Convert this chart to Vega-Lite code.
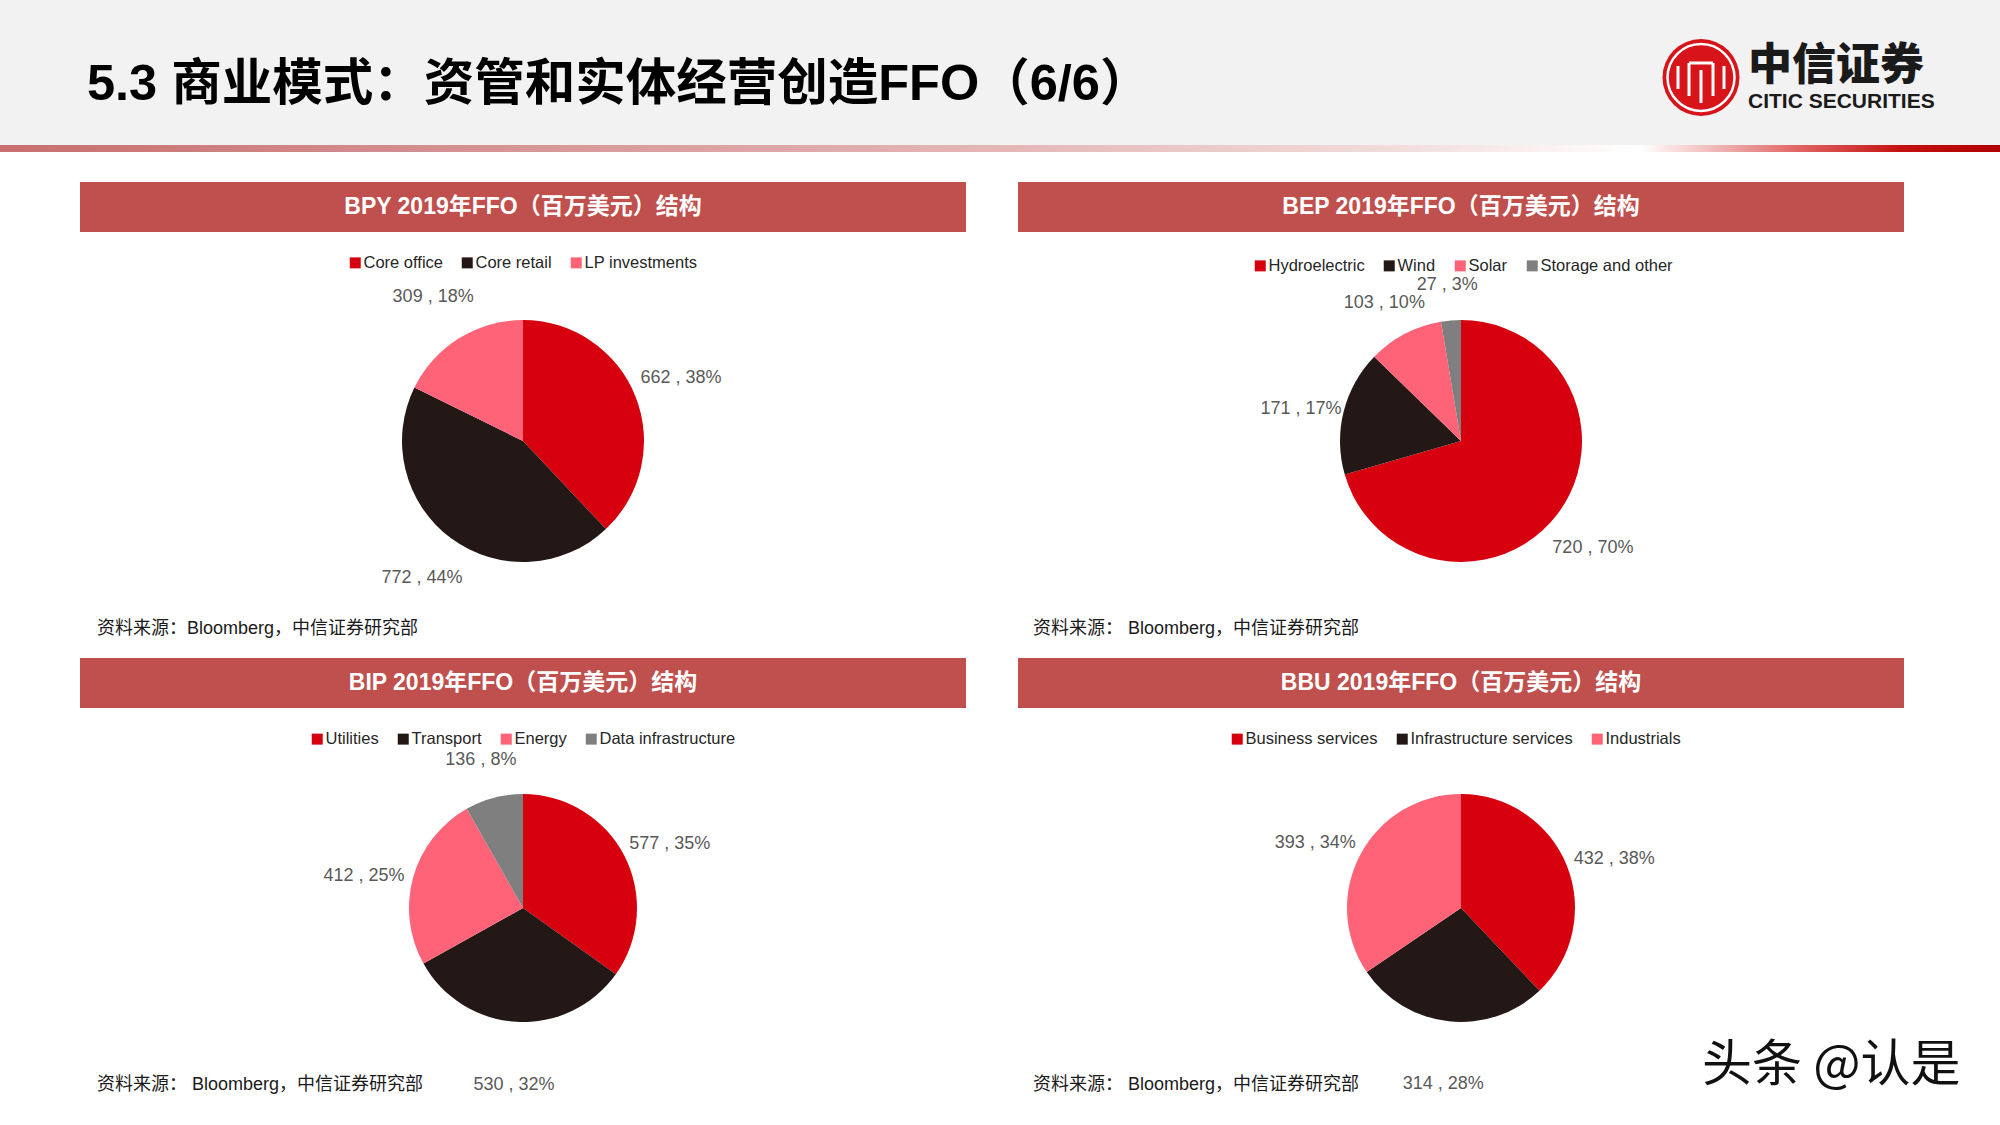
{
  "$schema": "https://vega.github.io/schema/vega-lite/v6.json",
  "background": "white",
  "padding": 0,
  "spacing": 0,
  "resolve": {"scale": {"color": "independent", "theta": "independent"}},
  "datasets": {
    "bpy": [
      {"i": 1, "category": "Core office", "value": 662, "label": "662 , 38%"},
      {"i": 2, "category": "Core retail", "value": 772, "label": "772 , 44%"},
      {"i": 3, "category": "LP investments", "value": 309, "label": "309 , 18%"}
    ],
    "bep": [
      {"i": 1, "category": "Hydroelectric", "value": 720, "label": "720 , 70%"},
      {"i": 2, "category": "Wind", "value": 171, "label": "171 , 17%"},
      {"i": 3, "category": "Solar", "value": 103, "label": "103 , 10%"},
      {"i": 4, "category": "Storage and other", "value": 27, "label": "27 , 3%"}
    ],
    "bip": [
      {"i": 1, "category": "Utilities", "value": 577, "label": "577 , 35%"},
      {"i": 2, "category": "Transport", "value": 530, "label": "530 , 32%"},
      {"i": 3, "category": "Energy", "value": 412, "label": "412 , 25%"},
      {"i": 4, "category": "Data infrastructure", "value": 136, "label": "136 , 8%"}
    ],
    "bbu": [
      {"i": 1, "category": "Business services", "value": 432, "label": "432 , 38%"},
      {"i": 2, "category": "Infrastructure services", "value": 314, "label": "314 , 28%"},
      {"i": 3, "category": "Industrials", "value": 393, "label": "393 , 34%"}
    ]
  },
  "vconcat": [
    {
      "width": 2000,
      "height": 145,
      "view": {"fill": "#f2f2f2", "stroke": null},
      "data": {"values": [{"t": "5.3 商业模式：资管和实体经营创造FFO（6/6）"}]},
      "layer": [
        {"mark": {"type": "text", "align": "left", "baseline": "middle", "fontSize": 50.5, "fontWeight": "bold", "font": "Liberation Sans, Noto Sans CJK SC", "fill": "#000000"},
         "encoding": {"text": {"field": "t", "type": "nominal"}, "x": {"value": 87}, "y": {"value": 85}}},
        {"mark": {"type": "point", "shape": "circle", "filled": true, "size": 5929, "color": "#d7141a", "opacity": 1},
         "encoding": {"x": {"value": 1701}, "y": {"value": 77.5}}},
        {"mark": {"type": "point", "shape": "circle", "filled": false, "size": 4489, "color": "#ffffff", "strokeWidth": 2.5, "opacity": 1},
         "encoding": {"x": {"value": 1701}, "y": {"value": 77.5}}},
        {"mark": {"type": "rule", "color": "#ffffff", "strokeWidth": 3},
         "encoding": {"x": {"value": 1689}, "y": {"value": 63}, "y2": {"value": 96}}},
        {"mark": {"type": "rule", "color": "#ffffff", "strokeWidth": 3},
         "encoding": {"x": {"value": 1713}, "y": {"value": 63}, "y2": {"value": 96}}},
        {"mark": {"type": "rule", "color": "#ffffff", "strokeWidth": 3},
         "encoding": {"x": {"value": 1689}, "x2": {"value": 1713}, "y": {"value": 63}}},
        {"mark": {"type": "rule", "color": "#ffffff", "strokeWidth": 3},
         "encoding": {"x": {"value": 1701}, "y": {"value": 70}, "y2": {"value": 103}}},
        {"mark": {"type": "rule", "color": "#ffffff", "strokeWidth": 3},
         "encoding": {"x": {"value": 1678}, "y": {"value": 66}, "y2": {"value": 89}}},
        {"mark": {"type": "rule", "color": "#ffffff", "strokeWidth": 3},
         "encoding": {"x": {"value": 1724}, "y": {"value": 66}, "y2": {"value": 89}}},
        {"mark": {"type": "text", "align": "left", "baseline": "middle", "fontSize": 44, "fontWeight": 900, "font": "Noto Sans CJK SC", "fill": "#1a1a1a"},
         "encoding": {"text": {"value": "中信证券"}, "x": {"value": 1748}, "y": {"value": 67}}},
        {"mark": {"type": "text", "align": "left", "baseline": "middle", "fontSize": 21, "fontWeight": "bold", "font": "Liberation Sans", "fill": "#1a1a1a"},
         "encoding": {"text": {"value": "CITIC SECURITIES"}, "x": {"value": 1748}, "y": {"value": 102}}}
      ]
    },
    {
      "width": 2000,
      "height": 37,
      "data": {"values": [{}]},
      "mark": {"type": "rect", "color": {"gradient": "linear", "x1": 0, "x2": 1, "y1": 0, "y2": 0, "stops": [
        {"offset": 0, "color": "#c86f6f"},
        {"offset": 0.3, "color": "#d99b9b"},
        {"offset": 0.5, "color": "#e4b6b6"},
        {"offset": 0.7, "color": "#f2dcdc"},
        {"offset": 0.82, "color": "#ffffff"},
        {"offset": 0.86, "color": "#f0b2b2"},
        {"offset": 0.9, "color": "#e06262"},
        {"offset": 0.95, "color": "#c41212"},
        {"offset": 1, "color": "#b00000"}
      ]}},
      "encoding": {"x": {"value": 0}, "x2": {"value": "width"}, "y": {"value": 0}, "y2": {"value": 7}}
    },
    {
      "spacing": 8,
      "resolve": {"scale": {"color": "independent", "theta": "independent"}},
      "vconcat": [
        {
          "spacing": 52,
          "resolve": {"scale": {"color": "independent", "theta": "independent"}},
          "hconcat": [
            {"width": 28, "height": 10, "data": {"values": [{}]}, "mark": {"type": "rect", "opacity": 0},
             "encoding": {"x": {"value": 0}, "x2": {"value": "width"}, "y": {"value": 0}, "y2": {"value": "height"}}},
            {
              "spacing": 0,
              "resolve": {"scale": {"color": "independent"}},
              "vconcat": [
                {"width": 886, "height": 50, "view": {"fill": "#c0504d", "stroke": null},
                 "data": {"values": [{"t": "BPY 2019年FFO（百万美元）结构"}]},
                 "mark": {"type": "text", "fontSize": 23, "fontWeight": "bold", "fill": "#ffffff", "font": "Liberation Sans, Noto Sans CJK SC", "align": "center", "baseline": "middle"},
                 "encoding": {"text": {"field": "t", "type": "nominal"}}},
                {
                  "width": 886, "height": 418,
                  "data": {"name": "bpy"},
                  "title": {"text": "资料来源：Bloomberg，中信证券研究部", "offset": -30, "dx": 17},
                  "layer": [
                    {"mark": {"type": "arc", "outerRadius": 121, "strokeWidth": 0},
                     "encoding": {
                       "theta": {"field": "value", "type": "quantitative", "stack": true},
                       "order": {"field": "i", "type": "quantitative"},
                       "color": {"field": "category", "type": "nominal",
                         "scale": {"domain": ["Core office", "Core retail", "LP investments"], "range": ["#d6000f", "#231816", "#ff6377"]},
                         "legend": {"title": null, "orient": "none", "legendX": 267, "legendY": 22.5}}}},
                    {"mark": {"type": "text", "radius": 170, "fontSize": 18, "font": "Liberation Sans", "fill": "#595959", "align": "center", "baseline": "middle"},
                     "encoding": {
                       "theta": {"field": "value", "type": "quantitative", "stack": true},
                       "order": {"field": "i", "type": "quantitative"},
                       "detail": {"field": "category", "type": "nominal"},
                       "text": {"field": "label", "type": "nominal"}}}
                  ]
                }
              ]
            },
            {
              "spacing": 0,
              "resolve": {"scale": {"color": "independent"}},
              "vconcat": [
                {"width": 886, "height": 50, "view": {"fill": "#c0504d", "stroke": null},
                 "data": {"values": [{"t": "BEP 2019年FFO（百万美元）结构"}]},
                 "mark": {"type": "text", "fontSize": 23, "fontWeight": "bold", "fill": "#ffffff", "font": "Liberation Sans, Noto Sans CJK SC", "align": "center", "baseline": "middle"},
                 "encoding": {"text": {"field": "t", "type": "nominal"}}},
                {
                  "width": 886, "height": 418,
                  "data": {"name": "bep"},
                  "title": {"text": "资料来源： Bloomberg，中信证券研究部", "offset": -30, "dx": 15},
                  "layer": [
                    {"mark": {"type": "arc", "outerRadius": 121, "strokeWidth": 0},
                     "encoding": {
                       "theta": {"field": "value", "type": "quantitative", "stack": true},
                       "order": {"field": "i", "type": "quantitative"},
                       "color": {"field": "category", "type": "nominal",
                         "scale": {"domain": ["Hydroelectric", "Wind", "Solar", "Storage and other"], "range": ["#d6000f", "#231816", "#ff6377", "#7f7f7f"]},
                         "legend": {"title": null, "orient": "none", "legendX": 234, "legendY": 25.5}}}},
                    {"mark": {"type": "text", "radius": 165, "dy": 8, "fontSize": 18, "font": "Liberation Sans", "fill": "#595959", "align": "center", "baseline": "middle"},
                     "encoding": {
                       "theta": {"field": "value", "type": "quantitative", "stack": true},
                       "order": {"field": "i", "type": "quantitative"},
                       "detail": {"field": "category", "type": "nominal"},
                       "text": {"field": "label", "type": "nominal"}}}
                  ]
                }
              ]
            }
          ]
        },
        {
          "spacing": 52,
          "resolve": {"scale": {"color": "independent", "theta": "independent"}},
          "hconcat": [
            {"width": 28, "height": 10, "data": {"values": [{}]}, "mark": {"type": "rect", "opacity": 0},
             "encoding": {"x": {"value": 0}, "x2": {"value": "width"}, "y": {"value": 0}, "y2": {"value": "height"}}},
            {
              "spacing": 0,
              "resolve": {"scale": {"color": "independent"}},
              "vconcat": [
                {"width": 886, "height": 50, "view": {"fill": "#c0504d", "stroke": null},
                 "data": {"values": [{"t": "BIP 2019年FFO（百万美元）结构"}]},
                 "mark": {"type": "text", "fontSize": 23, "fontWeight": "bold", "fill": "#ffffff", "font": "Liberation Sans, Noto Sans CJK SC", "align": "center", "baseline": "middle"},
                 "encoding": {"text": {"field": "t", "type": "nominal"}}},
                {
                  "width": 886, "height": 400,
                  "data": {"name": "bip"},
                  "title": {"text": "资料来源： Bloomberg，中信证券研究部", "offset": -32, "dx": 17},
                  "layer": [
                    {"mark": {"type": "arc", "outerRadius": 114, "strokeWidth": 0},
                     "encoding": {
                       "theta": {"field": "value", "type": "quantitative", "stack": true},
                       "order": {"field": "i", "type": "quantitative"},
                       "color": {"field": "category", "type": "nominal",
                         "scale": {"domain": ["Utilities", "Transport", "Energy", "Data infrastructure"], "range": ["#d6000f", "#231816", "#ff6377", "#7f7f7f"]},
                         "legend": {"title": null, "orient": "none", "legendX": 229, "legendY": 22.75}}}},
                    {"mark": {"type": "text", "radius": 165, "dy": 12, "fontSize": 18, "font": "Liberation Sans", "fill": "#595959", "align": "center", "baseline": "middle"},
                     "encoding": {
                       "theta": {"field": "value", "type": "quantitative", "stack": true},
                       "order": {"field": "i", "type": "quantitative"},
                       "detail": {"field": "category", "type": "nominal"},
                       "text": {"field": "label", "type": "nominal"}}}
                  ]
                }
              ]
            },
            {
              "spacing": 0,
              "resolve": {"scale": {"color": "independent"}},
              "vconcat": [
                {"width": 886, "height": 50, "view": {"fill": "#c0504d", "stroke": null},
                 "data": {"values": [{"t": "BBU 2019年FFO（百万美元）结构"}]},
                 "mark": {"type": "text", "fontSize": 23, "fontWeight": "bold", "fill": "#ffffff", "font": "Liberation Sans, Noto Sans CJK SC", "align": "center", "baseline": "middle"},
                 "encoding": {"text": {"field": "t", "type": "nominal"}}},
                {
                  "width": 886, "height": 400,
                  "data": {"name": "bbu"},
                  "title": {"text": "资料来源： Bloomberg，中信证券研究部", "offset": -32, "dx": 15},
                  "layer": [
                    {"mark": {"type": "arc", "outerRadius": 114, "strokeWidth": 0},
                     "encoding": {
                       "theta": {"field": "value", "type": "quantitative", "stack": true},
                       "order": {"field": "i", "type": "quantitative"},
                       "color": {"field": "category", "type": "nominal",
                         "scale": {"domain": ["Business services", "Infrastructure services", "Industrials"], "range": ["#d6000f", "#231816", "#ff6377"]},
                         "legend": {"title": null, "orient": "none", "legendX": 211, "legendY": 22.75}}}},
                    {"mark": {"type": "text", "radius": 165, "dy": 12, "fontSize": 18, "font": "Liberation Sans", "fill": "#595959", "align": "center", "baseline": "middle"},
                     "encoding": {
                       "theta": {"field": "value", "type": "quantitative", "stack": true},
                       "order": {"field": "i", "type": "quantitative"},
                       "detail": {"field": "category", "type": "nominal"},
                       "text": {"field": "label", "type": "nominal"}}},
                    {"data": {"values": [{"w": "头条 @认是"}]},
                     "mark": {"type": "text", "align": "left", "baseline": "middle", "fontSize": 50, "font": "Noto Sans CJK SC", "fill": "#111111"},
                     "encoding": {"text": {"field": "w", "type": "nominal"}, "x": {"value": 684}, "y": {"value": 358}}}
                  ]
                }
              ]
            }
          ]
        }
      ]
    },
    {"width": 10, "height": 17, "data": {"values": [{}]}, "mark": {"type": "rect", "opacity": 0},
     "encoding": {"x": {"value": 0}, "x2": {"value": "width"}, "y": {"value": 0}, "y2": {"value": "height"}}}
  ],
  "config": {
    "view": {"stroke": null},
    "title": {"orient": "bottom", "anchor": "start", "frame": "group", "font": "Liberation Sans, Noto Sans CJK SC", "fontSize": 18, "fontWeight": "normal", "color": "#1a1a1a"},
    "legend": {"direction": "horizontal", "symbolType": "square", "symbolSize": 121, "symbolStrokeWidth": 0, "labelFontSize": 16.5, "labelFont": "Liberation Sans", "labelColor": "#262626", "columnPadding": 16, "labelOffset": 0, "padding": 0, "labelLimit": 400}
  }
}
